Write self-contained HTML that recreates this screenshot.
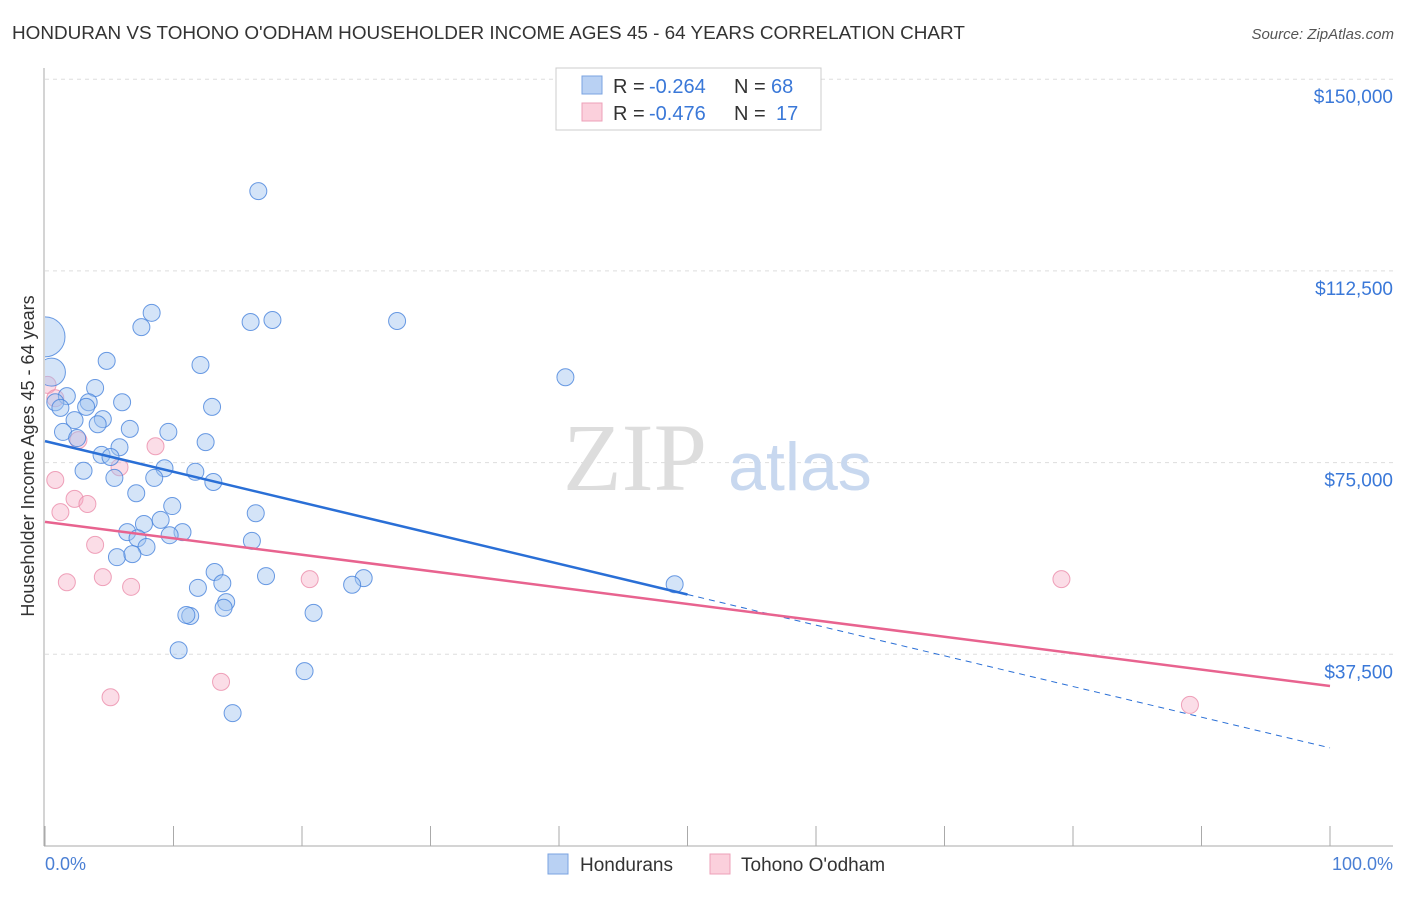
<!DOCTYPE html>
<html><head><meta charset="utf-8"><style>
body{margin:0;background:#fff;font-family:"Liberation Sans",sans-serif;}
</style></head><body>
<svg width="1406" height="892" xmlns="http://www.w3.org/2000/svg">
<defs><clipPath id="plotclip"><rect x="45" y="60" width="1360" height="786"/></clipPath></defs>
<text x="12" y="39" font-size="18.9" fill="#333">HONDURAN VS TOHONO O'ODHAM HOUSEHOLDER INCOME AGES 45 - 64 YEARS CORRELATION CHART</text>
<text x="1394" y="39" font-size="15" fill="#555" font-style="italic" text-anchor="end">Source: ZipAtlas.com</text>
<g id="grid"></g>
<text x="635" y="490" font-size="96" fill="#ddd" font-family="Liberation Serif,serif" text-anchor="middle">ZIP</text>
<text x="800" y="490" font-size="68" fill="#c8d8ef" text-anchor="middle">atlas</text>
<g id="pts" clip-path="url(#plotclip)"></g>
<g id="lines"></g>
<text transform="translate(34,456) rotate(-90)" font-size="18" fill="#333" text-anchor="middle">Householder Income Ages 45 - 64 years</text>
<text x="45" y="870" font-size="18" fill="#4a7fd4">0.0%</text>
<text x="1393" y="870" font-size="18" fill="#4a7fd4" text-anchor="end">100.0%</text>
<g>
<rect x="556" y="68" width="265" height="62" fill="#fff" stroke="#ccc"/>
<rect x="582" y="76" width="20" height="18" fill="#b9d1f3" stroke="#7aa3e0"/>
<rect x="582" y="103" width="20" height="18" fill="#fbd0dc" stroke="#eea0b8"/>
<text x="613" y="93" font-size="20" fill="#333">R = </text><text x="649" y="93" font-size="20" fill="#3a78d8">-0.264</text>
<text x="734" y="93" font-size="20" fill="#333">N = </text><text x="771" y="93" font-size="20" fill="#3a78d8">68</text>
<text x="613" y="120" font-size="20" fill="#333">R = </text><text x="649" y="120" font-size="20" fill="#3a78d8">-0.476</text>
<text x="734" y="120" font-size="20" fill="#333">N = </text><text x="776" y="120" font-size="20" fill="#3a78d8">17</text>
</g>
<g>
<rect x="548" y="854" width="20" height="20" fill="#b9d1f3" stroke="#7aa3e0"/>
<text x="580" y="871" font-size="19" fill="#333">Hondurans</text>
<rect x="710" y="854" width="20" height="20" fill="#fbd0dc" stroke="#eea0b8"/>
<text x="741" y="871" font-size="19" fill="#333">Tohono O'odham</text>
</g>
</svg>
<script>
const yTicks=[37500,75000,112500,150000];
const yTickLabels=["$37,500","$75,000","$112,500","$150,000"];
const blueX=[16.6,8.3,7.5,16.0,17.7,27.4,4.8,12.1,40.5,0.5,0.0,3.9,1.7,0.8,1.2,3.4,3.2,6.0,13.0,4.5,2.3,4.1,1.4,6.6,9.6,2.5,5.8,12.5,4.4,5.1,9.3,11.7,3.0,8.5,5.4,13.1,7.1,9.9,16.4,9.0,7.7,6.4,10.7,7.2,9.7,7.9,16.1,5.6,6.8,13.2,17.2,13.8,11.9,24.8,23.9,49.0,14.1,13.9,11.3,11.0,20.9,10.4,20.2,14.6];
const blueY=[128100,104300,101500,102500,102900,102700,94900,94100,91700,92700,99600,89600,88000,86800,85700,86800,85900,86800,85900,83500,83300,82500,81000,81600,81000,79800,78000,79000,76500,76100,73900,73200,73400,72000,72000,71200,69000,66500,65100,63800,63000,61400,61400,60200,60800,58500,59700,56500,57100,53600,52800,51400,50500,52400,51100,51200,47700,46600,45000,45200,45600,38300,34200,26000];
const pinkX=[0.2,0.8,2.6,8.6,5.8,0.8,2.3,3.3,1.2,3.9,1.7,4.5,6.7,20.6,79.1,5.1,13.7,89.1];
const pinkY=[90200,87600,79400,78200,74100,71600,67900,66900,65300,58900,51600,52600,50700,52200,52200,29100,32100,27600];
const blueTrend=[79200,19200];
const pinkTrend=[63400,31300];
const X0=45,X1=1330,Y0=846,PPV=191.7/37500;
const sx=v=>X0+(X1-X0)*v/100, sy=v=>Y0-v*PPV;
const NS="http://www.w3.org/2000/svg";
function mk(t,a,p){const e=document.createElementNS(NS,t);for(const k in a)e.setAttribute(k,a[k]);p.appendChild(e);return e;}
const g=document.getElementById('grid');
yTicks.forEach((t,i)=>{
 const l=mk('line',{x1:45,x2:1393,y1:sy(t),y2:sy(t),stroke:'#ddd','stroke-dasharray':'4,4'},g);
 
 
 const tx=mk('text',{x:1393,y:sy(t)+24,'font-size':19,fill:'#3a78d8','text-anchor':'end'},g);
 tx.textContent=yTickLabels[i];
 
 
});
const ax=mk('line',{x1:44,x2:44,y1:68,y2:846,stroke:'#aaa'},g);


const bx=mk('line',{x1:44,x2:1393,y1:846,y2:846,stroke:'#aaa'},g);


for(let i=0;i<=10;i++){const t=mk('line',{x1:sx(i*10),x2:sx(i*10),y1:826,y2:846,stroke:'#aaa'},g);
 
 }
const P=document.getElementById('pts');
pinkX.forEach((x,i)=>{const c=mk('circle',{cx:sx(x),cy:sy(pinkY[i]),r:8.5,fill:'rgba(246,170,195,0.4)',stroke:'rgba(235,140,170,0.8)','stroke-width':1},P);
 
 });
blueX.forEach((x,i)=>{const r=i==10?20:(i==9?14:8.5);const c=mk('circle',{cx:sx(x),cy:sy(blueY[i]),r:r,fill:'rgba(160,195,240,0.45)',stroke:'rgba(70,130,220,0.8)','stroke-width':1},P);
 
 });
const L=document.getElementById('lines');
const bAt=x=>blueTrend[0]+(blueTrend[1]-blueTrend[0])*x/100;
const pAt=x=>pinkTrend[0]+(pinkTrend[1]-pinkTrend[0])*x/100;
let l1=mk('line',{x1:sx(0),y1:sy(bAt(0)),x2:sx(50),y2:sy(bAt(50)),stroke:'#2a6fd6','stroke-width':2.5},L);


let l2=mk('line',{x1:sx(50),y1:sy(bAt(50)),x2:sx(100),y2:sy(bAt(100)),stroke:'#2a6fd6','stroke-width':1,'stroke-dasharray':'6,5'},L);


let l3=mk('line',{x1:sx(0),y1:sy(pAt(0)),x2:sx(100),y2:sy(pAt(100)),stroke:'#e8638f','stroke-width':2.5},L);


</script>
</body></html>
